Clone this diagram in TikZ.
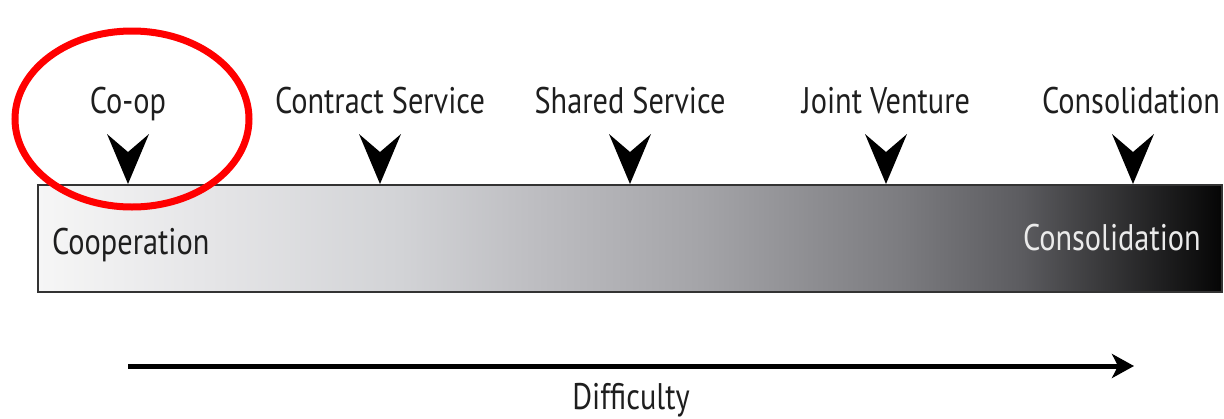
\documentclass[tikz,border=0pt]{standalone}
\usepackage{fontspec}
\newfontfamily\labfont[FakeStretch=0.82]{PT Sans}
\usetikzlibrary{arrows.meta}
\definecolor{c0}{HTML}{F6F6F6}
\definecolor{c1}{HTML}{E6E6E8}
\definecolor{c2}{HTML}{D2D3D6}
\definecolor{c3}{HTML}{BEBEC2}
\definecolor{c4}{HTML}{A4A4A8}
\definecolor{c5}{HTML}{7C7C80}
\definecolor{c6}{HTML}{5C5C60}
\definecolor{c7}{HTML}{3A3A3C}
\definecolor{c8}{HTML}{050505}
\definecolor{ringred}{HTML}{FF0000}
\definecolor{textgray}{HTML}{1E1E1E}
\pgfdeclarehorizontalshading{barshade}{100bp}{color(0bp)=(c0); color(25bp)=(c0); color(31.8bp)=(c1); color(40.3bp)=(c2); color(45.8bp)=(c3); color(53bp)=(c4); color(61.4bp)=(c5); color(66.5bp)=(c6); color(69.8bp)=(c7); color(75bp)=(c8); color(100bp)=(c8)}
\tikzset{
  x=1pt, y=-1pt,
  toplabel/.style={font=\labfont\fontsize{37}{40}\selectfont, text=textgray, anchor=base, inner sep=0pt},
  barlabel/.style={font=\labfont\fontsize{37}{40}\selectfont, anchor=base, inner sep=0pt},
  marker/.style={fill=black},
  ring/.style={draw=ringred, line width=7pt},
}
\newcommand{\chev}[1]{\fill[marker] (#1-21,134) -- (#1,152) -- (#1+21,134) -- (#1,184) -- cycle;}
\begin{document}
\begin{tikzpicture}
\useasboundingbox (0,0) rectangle (1224,418);
% bar
\shade[shading=barshade] (38,185) rectangle (1222,292);
\draw[draw=black!80, line width=2.2pt] (38,185) rectangle (1222,292);
% markers
\foreach \x in {128,380,630,886,1133} {\chev{\x}}
% top labels
\node[toplabel] (coop) at (128,113) {Co-op};
\node[toplabel] (contract) at (380,113) {Contract Service};
\node[toplabel] (shared) at (630,113) {Shared Service};
\node[toplabel] (joint) at (886,113) {Joint Venture};
\node[toplabel] (consol) at (1131,113) {Consolidation};
% bar labels
\node[barlabel, text=textgray, anchor=base west] (coopbar) at (52,254) {Cooperation};
\node[barlabel, text=white!92!black, anchor=base east] (consbar) at (1201,250) {Consolidation};
% difficulty arrow
\coordinate (dstart) at (128,366);
\coordinate (dend) at (1134,366);
\draw[line width=5pt, -{Stealth[length=22pt, width=24pt, inset=6pt]}] (dstart) -- (dend);
\node[toplabel] (diff) at (631,409) {Difficulty};
% red ring
\draw[ring] (132,119) ellipse [x radius=117, y radius=88];
\end{tikzpicture}
\end{document}
